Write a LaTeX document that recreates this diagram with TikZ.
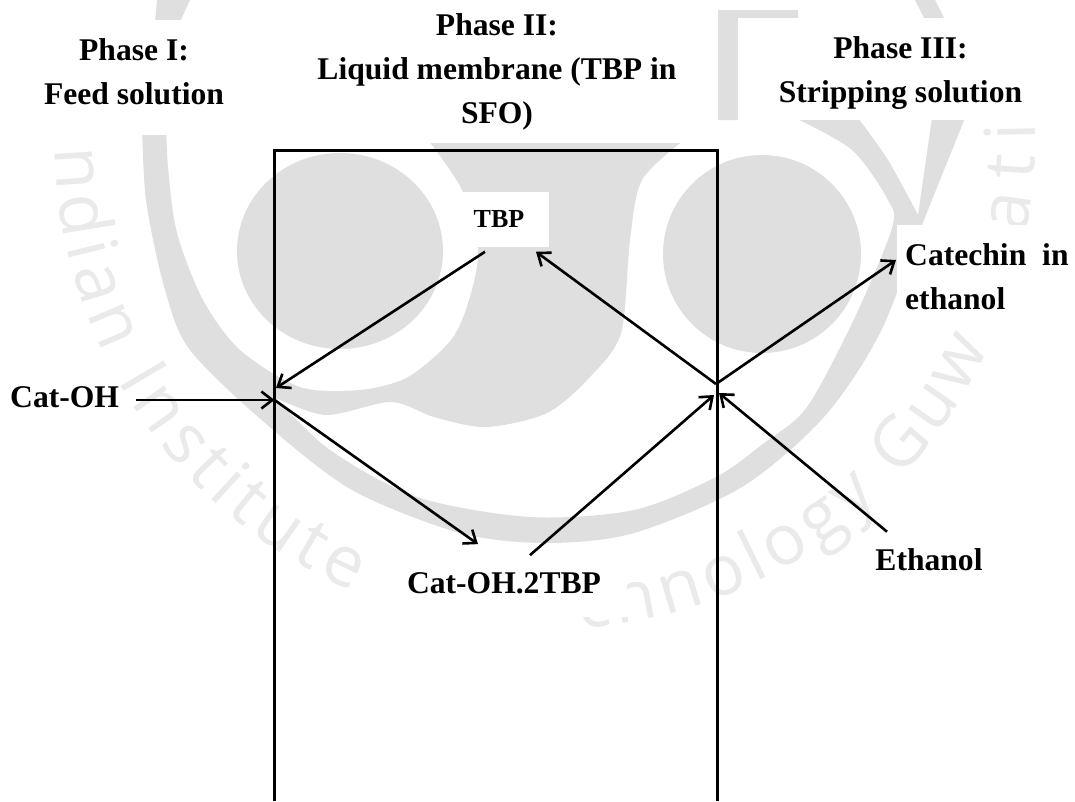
\documentclass[tikz,border=0pt]{standalone}
\usepackage{fontspec}
\setmainfont{Liberation Serif}
\newfontfamily\wmfont{Open Sans}
\usetikzlibrary{arrows.meta,calc,decorations.text}
\definecolor{logogrey}{HTML}{DFDFDF}
\definecolor{wmgrey}{HTML}{EAEAEA}

\begin{document}
\begin{tikzpicture}[
  x=1pt, y=-1pt,
  >={Straight Barb[length=11pt,width=17pt,line width=2.6pt]},
  logo/.style={fill=logogrey},
  patch/.style={fill=white},
  phase/.style={inner sep=0pt, align=center, font=\fontsize{31.6}{44}\selectfont\bfseries},
  flow/.style={->, line width=2.6pt, black},
  wall/.style={line width=3pt, black}
]
  \useasboundingbox (0,0) rectangle (1075,801);
  \fill[white] (0,0) rectangle (1075,801);

  % Watermark
  \fill[logo] plot[smooth] coordinates {(142,118) (146,200) (165,290) (190,350) (265,423) (352,490) (460,533) (547,543) (634,533) (742,487) (824,417) (880,333) (922,225) (965,118)}
    -- plot[smooth] coordinates {(932,118) (918,215)}
    -- plot[smooth] coordinates {(918,215) (888,160) (858,118)}
    -- plot[smooth] coordinates {(795,118) (852,150) (888,200) (892,228) (855,317) (807,407) (764,443) (716,477) (634,510) (530,517) (417,497) (330,450) (276,398)}
    -- plot[smooth] coordinates {(276,398) (326,415) (391,402) (434,417) (486,427) (547,413) (590,377) (621,333) (630,240) (642,180) (684,140)}
    -- plot[smooth] coordinates {(428,140) (462,190) (478,250) (469,300) (451,340) (408,377) (360,390) (300,387) (240,350) (203,300) (177,233) (168,167) (166,118)}
    -- cycle;
  \fill[logo] (340,251) circle[x radius=103pt, y radius=98pt];
  \fill[logo] (762,254) circle[x radius=99pt, y radius=99pt];
  \fill[logo] (157,0) -- (190,0) -- (180,22) -- (155,22) -- cycle;
  \fill[logo] (915,0) -- (935,0) -- (945,20) -- (925,20) -- cycle;
  \fill[logo] (718,120) -- (718,10) -- (798,10) -- (798,18) -- (738,18) -- (738,120) -- cycle;
  \foreach \ta/\tb/\words in {179/113/ndian Institute, 86/25/chnology Guw, 11/-2/ati}
    \path[decorate, decoration={text along path, text align=fit to path,
        text={|\wmfont\fontsize{70}{70}\selectfont\color{wmgrey}|\words}}]
      plot[domain=\ta:\tb, samples=60] ({545+490*cos(\x)},{140+490*sin(\x)});

  % White patches behind the labels
  \foreach \xa/\ya/\xb/\yb in {0/20/275/135, 275/0/718/143, 738/18/1075/120, 463/192/549/247, 897/225/1075/327, 390/565/627/617}
    \fill[patch] (\xa,\ya) rectangle (\xb,\yb);

  % Labels
  \node[phase] (phaseI) at (134,72) {Phase I:\\Feed solution};
  \node[phase] (phaseII) at (497,72) {Phase II:\\Liquid membrane (TBP in\\SFO)};
  \node[phase] (phaseIII) at (900.5,73) {Phase III:\\Stripping solution};
  \node[phase, font=\fontsize{26}{30}\selectfont\bfseries] (tbp) at (499,219) {TBP};
  \node[phase, align=left, anchor=west] (catechin) at (905,276.5) {Catechin\hspace{8pt} in\\ethanol};
  \node[phase, anchor=west] (catoh) at (10,397) {Cat-OH};
  \node[phase] (complex) at (504,583) {Cat-OH.2TBP};
  \node[phase] (ethanol) at (929,560) {Ethanol};

  % Membrane box
  \coordinate (wallL) at (274.5,801);
  \coordinate (cornerL) at (274.5,150);
  \coordinate (cornerR) at (717,150);
  \coordinate (wallR) at (717,801);
  \draw[wall] (wallL) -- (cornerL) -- (cornerR) -- (wallR);
  \coordinate (jointL) at (274.5,400);
  \coordinate (jointR) at (716,384);

  % Transport arrows
  \draw[flow] ($(catoh.east)+(17,3)$) -- (jointL);
  \draw[flow] ($(tbp.south)+(-14,24)$) -- ($(jointL)+(1.5,-12)$);
  \draw[flow] (jointL) -- ($(complex.north)+(-26,-28)$);
  \draw[flow] ($(complex.north)+(26,-17)$) -- ($(jointR)+(-2,11)$);
  \draw[flow] (jointR) -- ($(tbp.south)+(37,24)$);
  \draw[flow] (jointR) -- ($(catechin.west)+(-9,-16.5)$);
  \draw[flow] ($(ethanol.north)+(-42,-17)$) -- ($(jointR)+(3,9)$);

\end{tikzpicture}
\end{document}
